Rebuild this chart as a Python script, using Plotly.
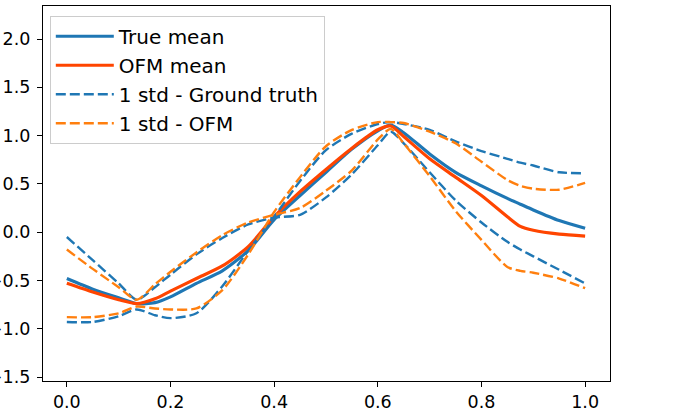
import plotly.graph_objects as go

x = [0.0, 0.05, 0.1, 0.135, 0.17, 0.2, 0.25, 0.3, 0.35, 0.4, 0.45, 0.5, 0.55,
     0.6, 0.625, 0.65, 0.7, 0.75, 0.8, 0.85, 0.875, 0.9, 0.95, 1.0]

true_mean = [-0.48, -0.59, -0.68, -0.74, -0.73, -0.67, -0.53, -0.40, -0.19, 0.13, 0.38, 0.62, 0.86,
             1.05, 1.11, 1.03, 0.81, 0.62, 0.48, 0.35, 0.29, 0.23, 0.12, 0.04]
ofm_mean = [-0.53, -0.62, -0.70, -0.74, -0.69, -0.61, -0.48, -0.35, -0.15, 0.16, 0.42, 0.65, 0.87,
            1.06, 1.10, 0.99, 0.76, 0.57, 0.38, 0.16, 0.06, 0.02, -0.02, -0.04]

gt_std_a = [-0.05, -0.29, -0.53, -0.70, -0.57, -0.44, -0.23, -0.06, 0.08, 0.15, 0.18, 0.36, 0.60,
            0.90, 1.04, 0.92, 0.62, 0.33, 0.10, -0.10, -0.18, -0.25, -0.39, -0.53]
gt_std_b = [-0.93, -0.93, -0.87, -0.80, -0.86, -0.89, -0.84, -0.56, -0.19, 0.16, 0.53, 0.85, 1.02,
            1.12, 1.14, 1.12, 1.06, 0.94, 0.84, 0.76, 0.72, 0.69, 0.62, 0.61]
ofm_std_a = [-0.18, -0.38, -0.57, -0.70, -0.54, -0.41, -0.21, -0.03, 0.10, 0.18, 0.25, 0.43, 0.64,
             0.96, 1.07, 0.92, 0.58, 0.22, -0.08, -0.36, -0.40, -0.42, -0.48, -0.58]
ofm_std_b = [-0.88, -0.88, -0.84, -0.77, -0.79, -0.80, -0.79, -0.60, -0.23, 0.21, 0.57, 0.89, 1.06,
             1.14, 1.14, 1.13, 1.04, 0.92, 0.73, 0.54, 0.48, 0.45, 0.44, 0.51]

x_ticks = [0.0, 0.2, 0.4, 0.6, 0.8, 1.0]
y_ticks = [-1.5, -1.0, -0.5, 0.0, 0.5, 1.0, 1.5, 2.0]
y_tick_labels = ["\u22121.5", "\u22121.0", "\u22120.5", "0.0", "0.5", "1.0", "1.5", "2.0"]

BLUE = "#1f77b4"
ORANGE = "#ff7f0e"
RED = "#ff4500"
DASH = "10px,4px"
spline = dict(shape="spline", smoothing=0.7)

fig = go.Figure()
fig.add_trace(go.Scatter(x=x, y=true_mean, mode="lines", name="True mean",
                         legendgroup="a", line=dict(color=BLUE, width=3.2, **spline)))
fig.add_trace(go.Scatter(x=x, y=ofm_mean, mode="lines", name="OFM mean",
                         legendgroup="b", line=dict(color=RED, width=3.2, **spline)))
fig.add_trace(go.Scatter(x=x, y=gt_std_a, mode="lines", name="1 std - Ground truth",
                         legendgroup="c", line=dict(color=BLUE, width=2.4, dash=DASH, **spline)))
fig.add_trace(go.Scatter(x=x, y=gt_std_b, mode="lines", name="1 std - Ground truth",
                         legendgroup="c", showlegend=False,
                         line=dict(color=BLUE, width=2.4, dash=DASH, **spline)))
fig.add_trace(go.Scatter(x=x, y=ofm_std_a, mode="lines", name="1 std - OFM",
                         legendgroup="d", line=dict(color=ORANGE, width=2.4, dash=DASH, **spline)))
fig.add_trace(go.Scatter(x=x, y=ofm_std_b, mode="lines", name="1 std - OFM",
                         legendgroup="d", showlegend=False,
                         line=dict(color=ORANGE, width=2.4, dash=DASH, **spline)))

axis_common = dict(showline=True, linecolor="black", linewidth=1.3, mirror=True,
                   ticks="outside", ticklen=5, tickwidth=1.1, tickcolor="black",
                   showgrid=False, zeroline=False, automargin=False,
                   tickfont=dict(family="DejaVu Sans", size=17.5, color="black"))

fig.update_layout(
    width=683, height=411,
    template="none",
    paper_bgcolor="white", plot_bgcolor="white",
    margin=dict(l=43, r=73, t=6, b=30),
    xaxis=dict(range=[-0.046, 1.048], tickvals=x_ticks,
               ticktext=[f"{v:.1f}" for v in x_ticks], **axis_common),
    yaxis=dict(range=[-1.541, 2.342], tickvals=y_ticks, ticktext=y_tick_labels,
               ticklabelstandoff=3, **axis_common),
    showlegend=True,
    legend=dict(x=0.012, y=0.974, xanchor="left", yanchor="top",
                bgcolor="rgba(255,255,255,0.85)", bordercolor="#cccccc", borderwidth=1,
                font=dict(family="DejaVu Sans", size=20, color="black"),
                tracegroupgap=6, itemwidth=58, traceorder="normal"),
)

fig.write_html("out.html", config={"displayModeBar": False},
               post_script="document.body.style.margin='0';")
